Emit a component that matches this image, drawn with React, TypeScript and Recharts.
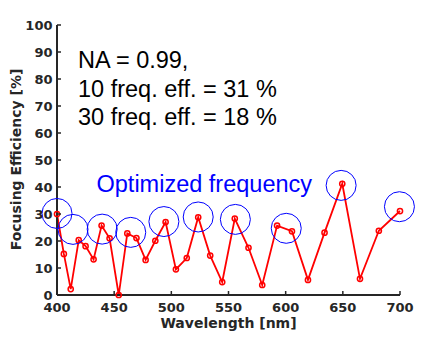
import { ComposedChart, Line, Scatter, XAxis, YAxis } from 'recharts';

// wavelength samples (nm) and focusing efficiency (%)
const wavelength = [400, 406, 412, 419, 425, 432, 439, 446, 454, 461.5, 469.5, 477.5, 486, 495, 504, 513.5, 523.5, 534, 544.5, 555.5, 567.5, 579.5, 592.5, 605.5, 619.5, 634, 649.5, 665, 681.5, 700];
const efficiency = [30, 15.2, 2.2, 20.3, 18.1, 13.2, 25.7, 21, 0, 22.8, 21.1, 13, 20.1, 27, 9.5, 13.7, 28.8, 14.6, 4.8, 28.3, 17.5, 3.7, 25.7, 23.6, 5.6, 23.1, 41.2, 6.0, 23.8, 31.1];

// optimized frequencies (blue circles)
const optWavelength = [400, 414, 439.5, 464.5, 493.5, 523.5, 556, 600.5, 648.5, 699.5];
const optEfficiency = [30.2, 24.3, 24.4, 23.2, 27.2, 28.9, 28, 24.7, 40.6, 32.7];

const xTicks = [400, 450, 500, 550, 600, 650, 700];
const yTicks = [0, 10, 20, 30, 40, 50, 60, 70, 80, 90, 100];

const notes = ['NA = 0.99,', '10 freq. eff. = 31 %', '30 freq. eff. = 18 %'];

const AXIS = '#262626';
const TICK_FONT = { fontFamily: 'DejaVu Sans', fontWeight: 700, fontSize: 13, fill: AXIS };

const curve = wavelength.map((w, i) => ({ w, eff: efficiency[i] }));
const optimized = optWavelength.map((w, i) => ({ w, eff: optEfficiency[i] }));

function BottomTick({ x, y, payload }: any) {
  return (
    <g>
      <line x1={x} x2={x} y1={y} y2={y - 4} stroke={AXIS} strokeWidth={1.5} />
      <text x={x} y={y + 16.5} textAnchor="middle" {...TICK_FONT}>{payload.value}</text>
    </g>
  );
}

function LeftTick({ x, y, payload }: any) {
  return (
    <g>
      <line x1={x + 4.5} x2={x + 8.5} y1={y} y2={y} stroke={AXIS} strokeWidth={1.5} />
      <text x={x} y={y} dy={4.7} textAnchor="end" {...TICK_FONT}>{payload.value}</text>
    </g>
  );
}

const BlueRing = ({ cx, cy }: any) => (
  <circle cx={cx} cy={cy} r={15} fill="none" stroke="#0000ff" strokeWidth={1} />
);

export default function App() {
  return (
    <div style={{ position: 'absolute', left: 0, top: 0, width: 428, height: 343, background: '#fff' }}>
      <ComposedChart width={428} height={343} margin={{ top: 25, right: 28, bottom: 18, left: 17 }}>
        <XAxis
          dataKey="w"
          type="number"
          domain={[400, 700]}
          ticks={xTicks}
          height={30}
          tickSize={0}
          tickMargin={0}
          tickLine={false}
          tick={<BottomTick />}
          axisLine={{ stroke: AXIS, strokeWidth: 2 }}
        />
        <XAxis
          xAxisId="top"
          orientation="top"
          type="number"
          domain={[400, 700]}
          ticks={xTicks}
          height={0}
          mirror
          tick={false}
          tickSize={4}
          tickLine={{ stroke: AXIS, strokeWidth: 1.5 }}
          axisLine={{ stroke: AXIS, strokeWidth: 2 }}
        />
        <YAxis
          type="number"
          domain={[0, 100]}
          ticks={yTicks}
          width={40}
          tickSize={0}
          tickMargin={4.5}
          tickLine={false}
          tick={<LeftTick />}
          axisLine={{ stroke: AXIS, strokeWidth: 2 }}
        />
        <YAxis
          yAxisId="right"
          orientation="right"
          type="number"
          domain={[0, 100]}
          ticks={yTicks}
          width={0}
          mirror
          tick={false}
          tickSize={4}
          tickLine={{ stroke: AXIS, strokeWidth: 1.5 }}
          axisLine={{ stroke: AXIS, strokeWidth: 2 }}
        />
        <Line
          data={curve}
          dataKey="eff"
          type="linear"
          stroke="#ff0000"
          strokeWidth={1.8}
          dot={{ r: 2.6, stroke: '#ff0000', strokeWidth: 1.5, fill: 'none' }}
          isAnimationActive={false}
        />
        <Scatter data={optimized} dataKey="eff" shape={<BlueRing />} isAnimationActive={false} />
      </ComposedChart>
      <svg width={428} height={343} style={{ position: 'absolute', left: 0, top: 0, pointerEvents: 'none' }}>
        {notes.map((t, i) => (
          <text key={t} x={78} y={68.3 + i * 28.4} fontFamily="Liberation Sans" fontSize={23.5} fill="#000">
            {t}
          </text>
        ))}
        <text x={96.5} y={191.5} fontFamily="Liberation Sans" fontSize={23.5} fill="#0000ff">
          Optimized frequency
        </text>
        <text x={228.5} y={327.8} textAnchor="middle" fontFamily="DejaVu Sans" fontWeight={700} fontSize={14} fill={AXIS}>
          Wavelength [nm]
        </text>
        <text
          x={0}
          y={0}
          transform="translate(21 159.5) rotate(-90)"
          textAnchor="middle"
          fontFamily="DejaVu Sans"
          fontWeight={700}
          fontSize={14}
          fill={AXIS}
        >
          Focusing Efficiency [%]
        </text>
      </svg>
    </div>
  );
}
